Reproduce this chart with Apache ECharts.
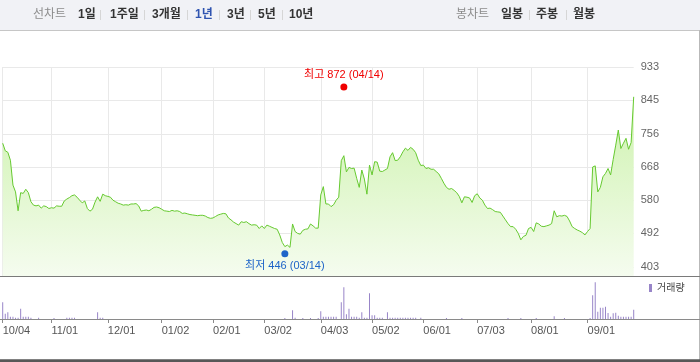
<!DOCTYPE html>
<html><head><meta charset="utf-8">
<script src="https://cdn.jsdelivr.net/npm/echarts@6/dist/echarts.min.js"></script>
<style>html,body{margin:0;padding:0;background:#fff}#c{width:700px;height:362px}</style>
</head><body><div id="c"></div>
<script>
// ---- data ----
const startDate = '2022-10-04';
const endDate = '2023-09-27';
const holidays = ['2022-10-10','2022-12-30','2023-01-23','2023-01-24','2023-03-01','2023-05-01','2023-05-05','2023-05-29','2023-06-06','2023-08-15'];
const yTickValues = [403, 492, 580, 668, 756, 845, 933];
const prices = [
  731,711,707,686,620,602,552,600,598,609,
  600,576,567,565,567,559,565,563,558,560,
  559,565,564,564,578,583,587,592,594,588,
  580,573,578,558,551,556,575,589,577,596,
  592,590,588,580,576,572,570,567,568,567,
  570,570,571,565,551,553,554,552,556,561,
  562,560,556,552,551,550,553,551,552,550,
  545,546,544,542,541,540,539,540,540,538,
  534,532,533,537,541,543,545,544,533,528,
  522,518,514,523,521,523,518,514,515,514,
  505,512,505,514,511,508,505,503,488,468,
  457,461,455,517,497,492,490,500,503,504,
  517,512,506,506,594,616,570,570,563,568,
  580,588,685,698,655,667,664,665,638,614,
  660,636,596,673,647,682,681,657,656,660,
  664,695,706,685,686,695,708,718,712,720,
  715,706,686,672,673,664,666,662,662,656,
  650,638,625,614,609,611,606,600,590,573,
  589,588,586,574,592,597,586,580,567,558,
  559,555,550,549,548,538,528,518,510,510,
  503,492,475,484,487,505,508,497,520,517,
  511,510,512,514,518,552,536,539,538,540,
  537,525,510,505,501,498,494,488,497,505,
  668,671,602,614,642,651,664,647,688,726,
  766,717,731,744,715,733,854
];
const volumes = [
  167,53,67,23,23,13,13,103,23,23,
  23,13,0,0,13,0,0,0,0,0,
  10,0,0,0,0,13,13,13,13,0,
  0,0,0,0,0,0,0,67,13,13,
  0,0,0,0,0,0,0,0,0,0,
  0,0,0,0,0,0,0,0,0,0,
  0,0,0,0,0,0,0,0,0,0,
  0,0,0,0,0,0,0,0,0,0,
  0,0,0,0,0,0,0,0,0,0,
  0,0,0,0,0,0,0,0,0,0,
  0,0,0,0,0,0,0,0,0,0,
  10,0,0,87,13,0,0,10,0,0,
  10,0,0,10,77,23,23,23,23,23,
  23,0,167,317,47,103,23,23,23,13,
  67,13,13,257,37,37,13,13,13,0,
  67,13,13,13,13,13,13,13,13,13,
  13,13,0,13,0,0,0,0,0,0,
  0,0,0,10,0,0,0,0,0,10,
  0,0,0,0,0,0,0,0,0,0,
  0,0,0,0,0,0,0,10,0,0,
  0,0,10,0,0,0,0,0,10,0,
  0,0,0,0,0,27,0,0,0,10,
  0,0,0,0,0,0,0,0,0,10,
  237,367,73,113,113,123,60,23,57,63,
  33,23,23,23,23,23,93
];
const highPoint = { date: '2023-04-14', value: 872, label: '최고' };
const lowPoint  = { date: '2023-03-14', value: 446, label: '최저' };
const periodTabs = ['1일', '1주일', '3개월', '1년', '3년', '5년', '10년'];
const candleTabs = ['일봉', '주봉', '월봉'];

// ---- categories: KRX trading days ----
function tradingDays() {
  const out = [];
  const d = new Date(startDate + 'T00:00:00Z');
  const end = new Date(endDate + 'T00:00:00Z');
  while (d <= end) {
    const w = d.getUTCDay();
    const s = d.toISOString().slice(0, 10);
    if (w !== 0 && w !== 6 && holidays.indexOf(s) < 0) out.push(s);
    d.setUTCDate(d.getUTCDate() + 1);
  }
  return out;
}
const dates = tradingDays();
const monthStart = new Set();
dates.forEach((s, i) => { if (i === 0 || s.slice(5, 7) !== dates[i - 1].slice(5, 7)) monthStart.add(i); });
const isMonthStart = (i) => monthStart.has(i);
const mmdd = (s) => s.slice(5).replace('-', '/');

const FONT = "'Liberation Sans','Noto Sans CJK KR',sans-serif";
const GL = 2.7, GR = 66.3;

// ---- toolbar graphics ----
const tabX1 = [78, 110, 152, 195, 227, 258, 289];
const sepX1 = [100.5, 144.5, 187.5, 219.5, 250.5, 282.5];
const tabX2 = [501, 536, 573];
const sepX2 = [529.5, 566.5];
const graphics = [
  { type: 'rect', shape: { x: 0, y: 0, width: 700, height: 30 }, style: { fill: '#f1f2f6' }, silent: true },
  { type: 'line', shape: { x1: 0, y1: 30.5, x2: 700, y2: 30.5 }, style: { stroke: '#c6c6c6', lineWidth: 1 }, silent: true },
  { type: 'line', shape: { x1: 699.5, y1: 30, x2: 699.5, y2: 362 }, style: { stroke: '#b9b9b9', lineWidth: 1 }, silent: true },
  { type: 'line', shape: { x1: 0, y1: 276.5, x2: 700, y2: 276.5 }, style: { stroke: '#7a7a7a', lineWidth: 1 }, silent: true },
  { type: 'line', shape: { x1: 0, y1: 319.5, x2: 700, y2: 319.5 }, style: { stroke: '#8a8a8a', lineWidth: 1 }, silent: true },
  { type: 'rect', shape: { x: 0, y: 359.3, width: 700, height: 3 }, style: { fill: '#575757' }, silent: true },
  { type: 'text', x: 33, y: 15, style: { text: '선차트', fill: '#8c8c8c', fontSize: 12, fontFamily: FONT, verticalAlign: 'middle' } },
  { type: 'text', x: 456, y: 15, style: { text: '봉차트', fill: '#8c8c8c', fontSize: 12, fontFamily: FONT, verticalAlign: 'middle' } }
];
periodTabs.forEach((t, i) => graphics.push({ type: 'text', x: tabX1[i], y: 15,
  style: { text: t, fill: t === '1년' ? '#2f54b0' : '#333', fontSize: 12, fontWeight: 'bold', fontFamily: FONT, verticalAlign: 'middle' } }));
candleTabs.forEach((t, i) => graphics.push({ type: 'text', x: tabX2[i], y: 15,
  style: { text: t, fill: '#333', fontSize: 12, fontWeight: 'bold', fontFamily: FONT, verticalAlign: 'middle' } }));
sepX1.concat(sepX2).forEach(x => graphics.push({ type: 'line', shape: { x1: x, y1: 10, x2: x, y2: 20 }, style: { stroke: '#d6d6d6', lineWidth: 1 }, silent: true }));

const hiIdx = dates.indexOf(highPoint.date);
const loIdx = dates.indexOf(lowPoint.date);

const chart = echarts.init(document.getElementById('c'), null, { renderer: 'canvas' });
chart.setOption({
  animation: false,
  backgroundColor: '#fff',
  textStyle: { fontFamily: FONT },
  graphic: graphics,
  legend: {
    data: ['거래량'], left: 649, top: 283, padding: 0, icon: 'rect', itemWidth: 3, itemHeight: 8,
    textStyle: { fontSize: 10, color: '#444', fontFamily: FONT }, selectedMode: false
  },
  grid: [
    { left: GL, right: GR, top: 67, bottom: 362 - 276, outerBoundsMode: 'none', containLabel: false },
    { left: GL, right: GR, top: 282, bottom: 362 - 319, outerBoundsMode: 'none', containLabel: false }
  ],
  xAxis: [
    { type: 'category', gridIndex: 0, data: dates, boundaryGap: false,
      axisLine: { show: false }, axisTick: { show: false }, axisLabel: { show: false },
      splitLine: { show: true, interval: isMonthStart, lineStyle: { color: '#e9e9e9', width: 1 } } },
    { type: 'category', gridIndex: 1, data: dates, boundaryGap: false,
      axisLine: { show: false },
      axisTick: { show: true, interval: isMonthStart, length: 4, lineStyle: { color: '#8a8a8a' } },
      axisLabel: { show: true, interval: isMonthStart, formatter: mmdd, align: 'left', margin: 6,
        color: '#555', fontSize: 11, fontFamily: FONT },
      splitLine: { show: false } }
  ],
  yAxis: [
    { type: 'value', gridIndex: 0, position: 'right', min: 403 - 9 * 530 / 200, max: 933,
      axisLine: { show: false }, axisTick: { show: false, customValues: yTickValues },
      axisLabel: { show: true, customValues: yTickValues, margin: 7, color: '#666', fontSize: 11, fontFamily: FONT,
        formatter: v => String(Math.round(v)) },
      splitLine: { show: true, lineStyle: { color: '#e9e9e9', width: 1 } } },
    { type: 'value', gridIndex: 1, min: 0, max: 370, show: false, splitLine: { show: false } }
  ],
  series: [
    { name: '종가', type: 'line', xAxisIndex: 0, yAxisIndex: 0, data: prices, symbol: 'none', z: 2,
      lineStyle: { color: '#66c930', width: 1 },
      areaStyle: { origin: 'start', opacity: 1, color: new echarts.graphic.LinearGradient(0, 0, 0, 1, [
        { offset: 0, color: '#cdf2ad' }, { offset: 1, color: '#f5fcef' }]) } },
    { name: 'high', type: 'scatter', xAxisIndex: 0, yAxisIndex: 0, data: [[hiIdx, highPoint.value]], z: 10,
      symbolSize: 7, symbolOffset: [0, -3], itemStyle: { color: '#f00000', opacity: 1 },
      label: { show: true, position: 'top', distance: 3, color: '#f00000', fontSize: 11, fontFamily: FONT,
        formatter: () => highPoint.label + ' ' + highPoint.value + ' (' + mmdd(highPoint.date) + ')' } },
    { name: 'low', type: 'scatter', xAxisIndex: 0, yAxisIndex: 0, data: [[loIdx, lowPoint.value]], z: 10,
      symbolSize: 7, symbolOffset: [0, 3], itemStyle: { color: '#1e64c8', opacity: 1 },
      label: { show: true, position: 'bottom', distance: 3, color: '#1e64c8', fontSize: 11, fontFamily: FONT,
        formatter: () => lowPoint.label + ' ' + lowPoint.value + ' (' + mmdd(lowPoint.date) + ')' } },
    { name: '거래량', type: 'bar', xAxisIndex: 1, yAxisIndex: 1, data: volumes, barWidth: 1,
      itemStyle: { color: '#9885c8' } }
  ]
});
</script></body></html>
